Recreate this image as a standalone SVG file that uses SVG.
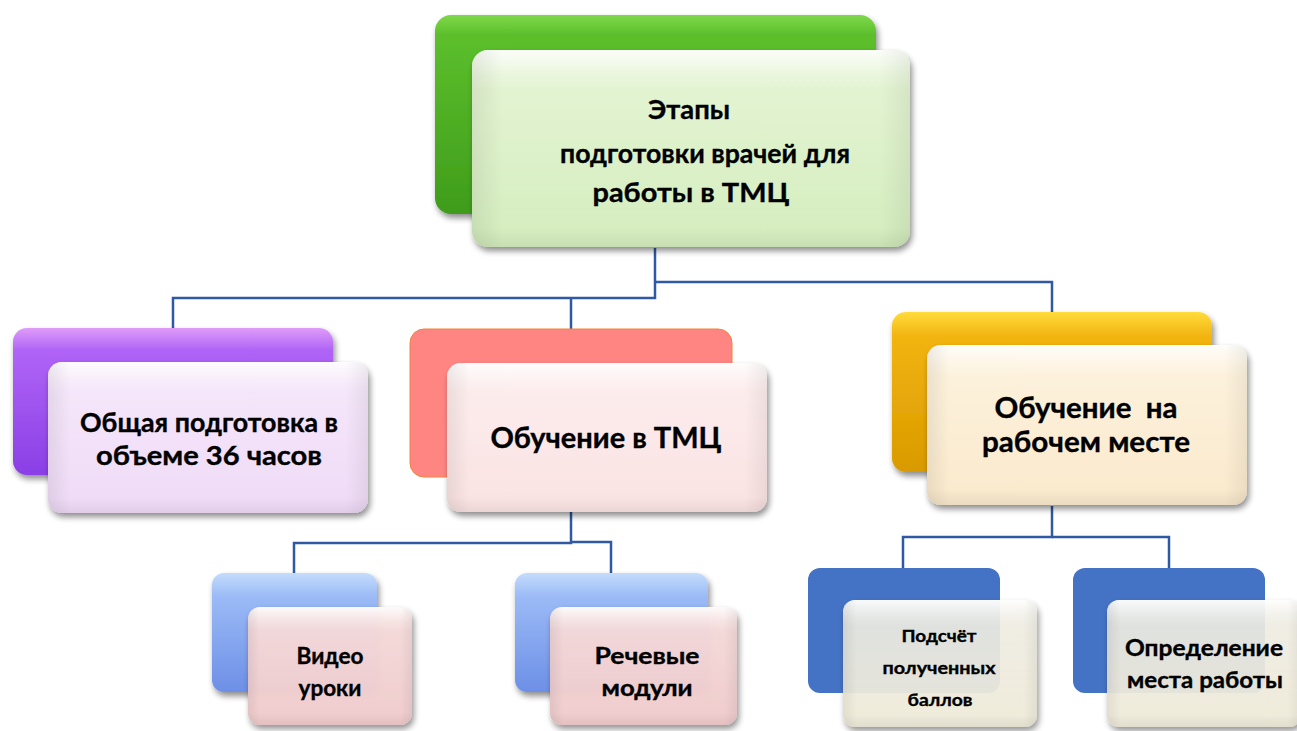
<svg xmlns="http://www.w3.org/2000/svg" width="1297" height="731" viewBox="0 0 1297 731">
  <style>
    .lbl { font-family: Lato, "Liberation Sans", Arial, sans-serif; font-weight: bold; fill: #000; stroke: #000; stroke-width: 0.35; text-anchor: middle; }
    .wire { fill: none; stroke: #2f5aa3; stroke-width: 2.5; }
    .gloss { fill: url(#topGloss); }
    .side { fill: url(#sideShade); }
  </style>
  <defs>
    <filter id="shadow" x="-10%" y="-10%" width="125%" height="130%">
      <feGaussianBlur in="SourceAlpha" stdDeviation="3"/>
      <feOffset dx="2" dy="4" result="b"/>
      <feComponentTransfer><feFuncA type="linear" slope="0.45"/></feComponentTransfer>
      <feMerge><feMergeNode/><feMergeNode in="SourceGraphic"/></feMerge>
    </filter>
    <linearGradient id="topGloss" x1="0" y1="0" x2="0" y2="1">
      <stop offset="0" stop-color="#fff" stop-opacity="0.85"/>
      <stop offset="0.12" stop-color="#fff" stop-opacity="0.25"/>
      <stop offset="0.2" stop-color="#fff" stop-opacity="0"/>
      <stop offset="0.9" stop-color="#000" stop-opacity="0"/>
      <stop offset="1" stop-color="#000" stop-opacity="0.06"/>
    </linearGradient>
    <linearGradient id="sideShade" x1="0" y1="0" x2="1" y2="0">
      <stop offset="0" stop-color="#000" stop-opacity="0.07"/>
      <stop offset="0.07" stop-color="#000" stop-opacity="0"/>
      <stop offset="0.93" stop-color="#000" stop-opacity="0"/>
      <stop offset="1" stop-color="#000" stop-opacity="0.06"/>
    </linearGradient>
    <linearGradient id="gGreen" x1="0" y1="0" x2="0" y2="1">
      <stop offset="0" stop-color="#7fd84a"/>
      <stop offset="0.1" stop-color="#5cbf2c"/>
      <stop offset="1" stop-color="#3f9c1b"/>
    </linearGradient>
    <linearGradient id="gPurple" x1="0" y1="0" x2="0" y2="1">
      <stop offset="0" stop-color="#df9cf8"/>
      <stop offset="0.15" stop-color="#b064f6"/>
      <stop offset="1" stop-color="#8a3fe6"/>
    </linearGradient>
    <linearGradient id="gGold" x1="0" y1="0" x2="0" y2="1">
      <stop offset="0" stop-color="#ffdc3c"/>
      <stop offset="0.15" stop-color="#f2b410"/>
      <stop offset="1" stop-color="#d99a00"/>
    </linearGradient>
    <linearGradient id="gSky" x1="0" y1="0" x2="0" y2="1">
      <stop offset="0" stop-color="#c4dcfc"/>
      <stop offset="0.2" stop-color="#9bbaf6"/>
      <stop offset="1" stop-color="#6d8fe6"/>
    </linearGradient>
    <linearGradient id="fGreen" x1="0" y1="0" x2="0" y2="1">
      <stop offset="0" stop-color="#e6f5d6"/>
      <stop offset="1" stop-color="#d4edbe"/>
    </linearGradient>
    <linearGradient id="fLav" x1="0" y1="0" x2="0" y2="1">
      <stop offset="0" stop-color="#f6e9fb"/>
      <stop offset="1" stop-color="#efdaf6"/>
    </linearGradient>
    <linearGradient id="fRose" x1="0" y1="0" x2="0" y2="1">
      <stop offset="0" stop-color="#fdeeee"/>
      <stop offset="1" stop-color="#fae2e2"/>
    </linearGradient>
    <linearGradient id="fCream" x1="0" y1="0" x2="0" y2="1">
      <stop offset="0" stop-color="#fdf3df"/>
      <stop offset="1" stop-color="#fae9cc"/>
    </linearGradient>
    <linearGradient id="fPink" x1="0" y1="0" x2="0" y2="1">
      <stop offset="0" stop-color="#f8dede"/>
      <stop offset="1" stop-color="#f2cccd"/>
    </linearGradient>
    <linearGradient id="fIvory" x1="0" y1="0" x2="0" y2="1">
      <stop offset="0" stop-color="#f5f3ea" stop-opacity="0.85"/>
      <stop offset="1" stop-color="#f2eedc" stop-opacity="0.92"/>
    </linearGradient>
  </defs>

  <!-- connectors -->
  <g id="connectors">
    <polyline class="wire" points="655,248 655,298 173,298 173,330"/>
    <polyline class="wire" points="571,298 571,330"/>
    <polyline class="wire" points="655,282 1052,282 1052,312"/>
    <polyline class="wire" points="571,512 571,543 294,543 294,574"/>
    <polyline class="wire" points="571,542 611,542 611,574"/>
    <polyline class="wire" points="1052,506 1052,537 903,537 903,568"/>
    <polyline class="wire" points="1052,537 1169,537 1169,568"/>
  </g>

  <!-- root: stages of training -->
  <g id="root">
    <rect x="435" y="15" width="441" height="199" rx="16" fill="url(#gGreen)" filter="url(#shadow)"/>
    <rect x="472" y="50" width="438" height="197" rx="16" fill="url(#fGreen)" filter="url(#shadow)"/>
    <rect x="472" y="50" width="438" height="197" rx="16" class="gloss"/>
    <rect x="472" y="50" width="438" height="197" rx="16" class="side"/>
    <text class="lbl" font-size="27" x="689" y="119" textLength="82" lengthAdjust="spacingAndGlyphs">Этапы</text>
    <text class="lbl" font-size="27" x="705" y="163" textLength="290" lengthAdjust="spacingAndGlyphs">подготовки врачей для</text>
    <text class="lbl" font-size="27" x="691" y="202" textLength="197" lengthAdjust="spacingAndGlyphs">работы в ТМЦ</text>
  </g>

  <!-- general training -->
  <g id="general">
    <rect x="13" y="328" width="320" height="147" rx="14" fill="url(#gPurple)" filter="url(#shadow)"/>
    <rect x="48" y="362" width="320" height="151" rx="14" fill="url(#fLav)" filter="url(#shadow)"/>
    <rect x="48" y="362" width="320" height="151" rx="14" class="gloss"/>
    <rect x="48" y="362" width="320" height="151" rx="14" class="side"/>
    <text class="lbl" font-size="26" x="209" y="432" textLength="258" lengthAdjust="spacingAndGlyphs">Общая подготовка в</text>
    <text class="lbl" font-size="26" x="209" y="465" textLength="226" lengthAdjust="spacingAndGlyphs">объеме 36 часов</text>
  </g>

  <!-- training at the telemedicine centre -->
  <g id="tmc">
    <rect x="410" y="329" width="322" height="148" rx="14" fill="#ff8583" stroke="#f0843a" stroke-width="1"/>
    <rect x="447" y="363" width="320" height="149" rx="14" fill="url(#fRose)" filter="url(#shadow)"/>
    <rect x="447" y="363" width="320" height="149" rx="14" class="gloss"/>
    <rect x="447" y="363" width="320" height="149" rx="14" class="side"/>
    <text class="lbl" font-size="28" x="606" y="448" textLength="231" lengthAdjust="spacingAndGlyphs">Обучение в ТМЦ</text>
  </g>

  <!-- on-the-job training -->
  <g id="workplace">
    <rect x="892" y="312" width="320" height="160" rx="14" fill="url(#gGold)" filter="url(#shadow)"/>
    <rect x="927" y="345" width="320" height="160" rx="14" fill="url(#fCream)" filter="url(#shadow)"/>
    <rect x="927" y="345" width="320" height="160" rx="14" class="gloss"/>
    <rect x="927" y="345" width="320" height="160" rx="14" class="side"/>
    <text class="lbl" font-size="28" x="1086" y="418" xml:space="preserve" textLength="183" lengthAdjust="spacingAndGlyphs">Обучение  на</text>
    <text class="lbl" font-size="28" x="1086" y="452" textLength="208" lengthAdjust="spacingAndGlyphs">рабочем месте</text>
  </g>

  <!-- video lessons -->
  <g id="video">
    <rect x="212" y="573" width="165" height="119" rx="12" fill="url(#gSky)" filter="url(#shadow)"/>
    <rect x="248" y="607" width="164" height="118" rx="12" fill="url(#fPink)" fill-opacity="0.95" filter="url(#shadow)"/>
    <rect x="248" y="607" width="164" height="118" rx="12" class="gloss"/>
    <rect x="248" y="607" width="164" height="118" rx="12" class="side"/>
    <text class="lbl" font-size="22" x="330" y="664" textLength="67" lengthAdjust="spacingAndGlyphs">Видео</text>
    <text class="lbl" font-size="22" x="330" y="696" textLength="63" lengthAdjust="spacingAndGlyphs">уроки</text>
  </g>

  <!-- speech modules -->
  <g id="speech">
    <rect x="515" y="573" width="193" height="119" rx="12" fill="url(#gSky)" filter="url(#shadow)"/>
    <rect x="550" y="607" width="187" height="118" rx="12" fill="url(#fPink)" fill-opacity="0.95" filter="url(#shadow)"/>
    <rect x="550" y="607" width="187" height="118" rx="12" class="gloss"/>
    <rect x="550" y="607" width="187" height="118" rx="12" class="side"/>
    <text class="lbl" font-size="22" x="647" y="664" textLength="105" lengthAdjust="spacingAndGlyphs">Речевые</text>
    <text class="lbl" font-size="22" x="647" y="696" textLength="91" lengthAdjust="spacingAndGlyphs">модули</text>
  </g>

  <!-- score counting -->
  <g id="scores">
    <rect x="808" y="568" width="192" height="125" rx="12" fill="#4472c4"/>
    <rect x="843" y="600" width="194" height="127" rx="12" fill="url(#fIvory)" filter="url(#shadow)"/>
    <rect x="843" y="600" width="194" height="127" rx="12" class="gloss"/>
    <rect x="843" y="600" width="194" height="127" rx="12" class="side"/>
    <text class="lbl" font-size="17" x="939" y="642" textLength="75" lengthAdjust="spacingAndGlyphs">Подсчёт</text>
    <text class="lbl" font-size="17" x="939" y="674" textLength="113" lengthAdjust="spacingAndGlyphs">полученных</text>
    <text class="lbl" font-size="17" x="940" y="706" textLength="65" lengthAdjust="spacingAndGlyphs">баллов</text>
  </g>

  <!-- workplace assignment -->
  <g id="assignment">
    <rect x="1073" y="568" width="192" height="125" rx="12" fill="#4472c4"/>
    <rect x="1107" y="600" width="194" height="127" rx="12" fill="url(#fIvory)" filter="url(#shadow)"/>
    <rect x="1107" y="600" width="194" height="127" rx="12" class="gloss"/>
    <rect x="1107" y="600" width="194" height="127" rx="12" class="side"/>
    <text class="lbl" font-size="22" x="1204" y="656" textLength="158" lengthAdjust="spacingAndGlyphs">Определение</text>
    <text class="lbl" font-size="22" x="1205" y="688" textLength="156" lengthAdjust="spacingAndGlyphs">места работы</text>
  </g>
</svg>
